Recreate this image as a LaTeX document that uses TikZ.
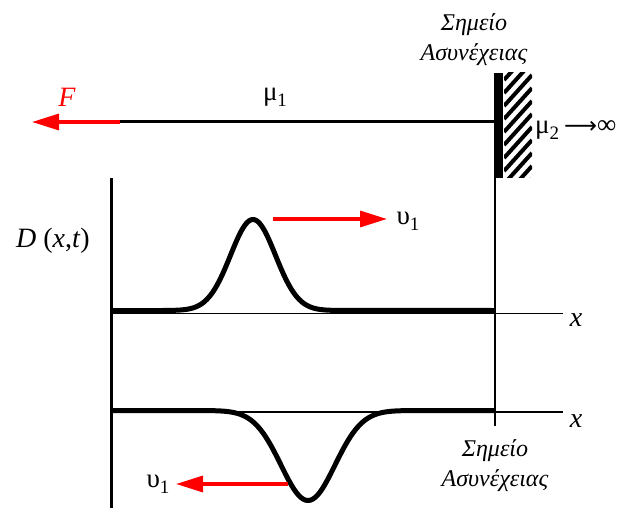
\documentclass[tikz,border=0pt]{standalone}
\usepackage{fontspec}
\setmainfont{Liberation Serif}
\newfontfamily\arrowfont{DejaVu Sans}
\usetikzlibrary{arrows.meta}
\definecolor{fred}{RGB}{255,0,0}
\tikzset{
  lbl/.style={inner sep=0pt, font=\fontsize{27}{30}\selectfont},
  ilbl/.style={inner sep=0pt, font=\fontsize{28}{30}\selectfont\itshape},
  glbl/.style={inner sep=0pt, align=center, font=\fontsize{24}{30}\selectfont\itshape},
  redarrow/.style={draw=fred, line width=3.3pt, -{Triangle[length=27pt,width=16pt]}},
  curve/.style={line width=5pt, line join=round},
  axis/.style={line width=1.6pt},
}
\newcommand{\mysub}[1]{\raisebox{-0.22em}{\fontsize{19}{20}\selectfont #1}}
\begin{document}
\begin{tikzpicture}[x=1pt,y=-1pt]
\useasboundingbox (0,0) rectangle (627,508);
% wall
\fill (494,73) rectangle (503,178);
\begin{scope}
\clip (504,73) rectangle (532,178);
\foreach \k in {0,...,12} {
  \draw[line width=4pt] (504,{80+13*\k}) -- (532,{49+13*\k});
}
\end{scope}
\coordinate (wallL) at (494,122);
\coordinate (stringL) at (120,122);
\coordinate (Ftip) at (32,122);
\draw[line width=3pt] (stringL) -- (wallL);
\draw[redarrow] (stringL) -- (Ftip);
\node[ilbl, text=fred] (F) at (67,97) {F};
\node[lbl] (mu1) at (275,97) {μ\mysub{1}};
\node[lbl, anchor=west] (mu2) at (535,130) {μ\mysub{2}\hspace{5pt}{\arrowfont\fontsize{23}{24}\selectfont ⟶}∞};
\node[glbl] (top) at (474,40) {Σημείο\\Ασυνέχειας};
% axes
\coordinate (vtop) at (111,178);
\coordinate (vbot) at (111,508);
\draw[line width=3pt] (vtop) -- (vbot);
\coordinate (discT) at (495,178);
\coordinate (discB) at (495,426);
\draw[axis] (discT) -- (discB);
\coordinate (a1L) at (111,313.5);
\coordinate (a1R) at (563,313.5);
\coordinate (a2L) at (111,412);
\coordinate (a2R) at (563,412);
\draw[axis] (a1L) -- (a1R);
\draw[axis] (a2L) -- (a2R);
\node[ilbl] (x1) at (576,320) {x};
\node[ilbl] (x2) at (576,421) {x};
\node[inner sep=0pt, font=\fontsize{28}{30}\selectfont] (D) at (53,241) {\textit{D} (\textit{x},\textit{t})};
% pulses
\draw[curve] (112,310.5) -- (163,310.5) -- plot[domain=163:343, samples=120] (\x, {310.5 - 91*exp(-((\x-253)/22.5)^2/2)}) -- (495,310.5);
\draw[curve] (112,410.5) -- (200,410.5) -- plot[domain=200:416, samples=140] (\x, {410.5 + 90*exp(-((\x-308)/27)^2/2)}) -- (495,410.5);
% velocity arrows
\coordinate (v1s) at (273,219);
\coordinate (v1e) at (387,219);
\draw[redarrow] (v1s) -- (v1e);
\node[lbl] (u1) at (408,221) {υ\mysub{1}};
\coordinate (v2s) at (288,484);
\coordinate (v2e) at (176,484);
\draw[redarrow] (v2s) -- (v2e);
\node[lbl] (u2) at (158,484) {υ\mysub{1}};
\node[glbl] (bot) at (495,466) {Σημείο\\Ασυνέχειας};
\end{tikzpicture}
\end{document}
